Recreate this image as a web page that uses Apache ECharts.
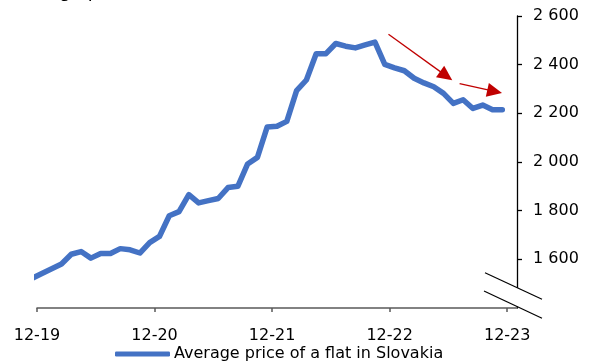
<!DOCTYPE html>
<html>
<head>
<meta charset="utf-8">
<script src="https://cdn.jsdelivr.net/npm/echarts@6/dist/echarts.min.js"></script>
<style>
  html, body { margin: 0; padding: 0; background: #fff; }
  #chart { width: 590px; height: 364px; }
</style>
</head>
<body>
<div id="chart"></div>
<script>
// Monthly average asking price of a flat in Slovakia, EUR per m2
const months = [
  '2019-11', '2019-12',
  '2020-01', '2020-02', '2020-03', '2020-04', '2020-05', '2020-06',
  '2020-07', '2020-08', '2020-09', '2020-10', '2020-11', '2020-12',
  '2021-01', '2021-02', '2021-03', '2021-04', '2021-05', '2021-06',
  '2021-07', '2021-08', '2021-09', '2021-10', '2021-11', '2021-12',
  '2022-01', '2022-02', '2022-03', '2022-04', '2022-05', '2022-06',
  '2022-07', '2022-08', '2022-09', '2022-10', '2022-11', '2022-12',
  '2023-01', '2023-02', '2023-03', '2023-04', '2023-05', '2023-06',
  '2023-07', '2023-08', '2023-09', '2023-10', '2023-11'
];
const flatPrice = [
  1522, 1542,
  1561, 1581, 1621, 1632, 1605, 1624,
  1624, 1644, 1639, 1626, 1669, 1694,
  1779, 1796, 1866, 1832, 1841, 1850,
  1895, 1900, 1992, 2019, 2144, 2147,
  2167, 2293, 2337, 2445, 2445, 2487,
  2476, 2469, 2481, 2493, 2401, 2387,
  2375, 2344, 2325, 2309, 2282, 2241,
  2256, 2220, 2234, 2215, 2215
];
const seriesName = 'Average price of a flat in Slovakia';
const chartTitle = 'Average price of a flat (€/m²)';

// x axis runs in months counted from December 2019
const xTickMonths = [0, 12, 24, 36, 48];
const xTickLabels = ['12-19', '12-20', '12-21', '12-22', '12-23'];
const yTicks = [1600, 1800, 2000, 2200, 2400, 2600];

// trend arrows: [fromMonth, fromValue, toMonth, toValue]
const trendArrows = [
  [35.88, 2525, 41.77, 2354],
  [43.14, 2322, 46.72, 2290]
];

// each monthly value sits in the middle of its month
function monthPos(s) {
  const [y, m] = s.split('-').map(Number);
  return (y - 2019) * 12 + (m - 12) + 0.5;
}
const points = months.map((mo, i) => [monthPos(mo), flatPrice[i]]);

const FONT = "Verdana, 'DejaVu Sans', sans-serif";
const chart = echarts.init(document.getElementById('chart'), null, { renderer: 'canvas' });

const grid = { left: 37, right: 73, top: 16, bottom: 56 };
const cornerX = 590 - grid.right;
const cornerY = 364 - grid.bottom;

chart.setOption({
  animation: false,
  textStyle: { fontFamily: FONT },
  grid: grid,
  xAxis: {
    type: 'value',
    min: 0,
    max: 49,
    interval: 12,
    splitLine: { show: false },
    axisLine: { onZero: false, lineStyle: { color: '#595959', width: 1.5 } },
    axisTick: { customValues: xTickMonths, length: 4, lineStyle: { color: '#595959', width: 1.5 } },
    axisLabel: {
      customValues: xTickMonths,
      formatter: v => xTickLabels[xTickMonths.indexOf(v)] || '',
      color: '#000', fontSize: 16, fontFamily: FONT, margin: 20
    }
  },
  yAxis: {
    type: 'value',
    position: 'right',
    min: 1400,
    max: 2600,
    interval: 200,
    splitLine: { show: false },
    axisLine: { show: true, onZero: false, lineStyle: { color: '#000', width: 1.3 } },
    axisTick: { show: true, customValues: yTicks, length: 5, lineStyle: { color: '#000', width: 1.3 } },
    axisLabel: {
      customValues: yTicks,
      formatter: v => String(v).replace(/\B(?=(\d{3})+(?!\d))/g, ' '),
      color: '#000', fontSize: 16, fontFamily: FONT, margin: 16
    }
  },
  legend: {
    left: 110,
    top: 341,
    itemWidth: 55,
    itemHeight: 5,
    itemGap: 10,
    icon: 'roundRect',
    textStyle: { fontSize: 16, color: '#000', fontFamily: FONT, padding: [0, 0, 0, -1] },
    data: [seriesName]
  },
  series: [{
    name: seriesName,
    type: 'line',
    data: points,
    clip: true,
    showSymbol: false,
    symbol: 'none',
    lineStyle: { color: '#4472C4', width: 5.5, cap: 'round', join: 'round' },
    itemStyle: { color: '#4472C4' },
    markLine: {
      silent: true,
      symbol: ['none', 'triangle'],
      symbolSize: [14, 15],
      label: { show: false },
      lineStyle: { color: '#C00000', width: 1.3, type: 'solid' },
      itemStyle: { color: '#C00000' },
      emphasis: { disabled: true },
      data: trendArrows.map(a => [{ coord: [a[0], a[1]] }, { coord: [a[2], a[3]] }])
    }
  }],
  graphic: [
    {
      type: 'text', left: 8, top: -17,
      style: { text: chartTitle, font: '18px ' + FONT, fill: '#000' }
    },
    // axis break: blank band between two slanted strokes at the corner
    {
      type: 'polygon',
      shape: { points: [
        [cornerX - 32, cornerY - 35.3], [cornerX + 25, cornerY - 8.7],
        [cornerX + 25, cornerY + 10.3], [cornerX - 33, cornerY - 17]
      ] },
      style: { fill: '#fff' }, z: 100
    },
    {
      type: 'line',
      shape: { x1: cornerX - 32, y1: cornerY - 35.3, x2: cornerX + 25, y2: cornerY - 8.7 },
      style: { stroke: '#000', lineWidth: 1.2 }, z: 101
    },
    {
      type: 'line',
      shape: { x1: cornerX - 33, y1: cornerY - 17, x2: cornerX + 25, y2: cornerY + 10.3 },
      style: { stroke: '#000', lineWidth: 1.2 }, z: 101
    }
  ]
});
</script>
</body>
</html>
